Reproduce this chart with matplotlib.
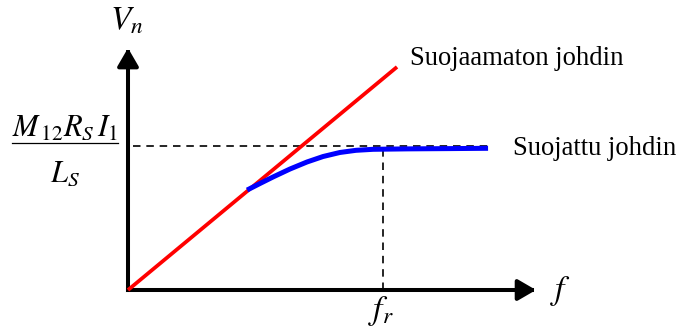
import matplotlib
matplotlib.use("Agg")
import matplotlib.pyplot as plt

plt.rcParams["mathtext.fontset"] = "stix"
plt.rcParams["font.family"] = ["Liberation Serif", "DejaVu Serif"]

# Normalised frequency (f / f_r) and induced voltage (V_n / saturation level)
f_unshielded = [0.0, 1.055]
v_unshielded = [0.0, 1.549]

f_shielded = [0.467, 0.518, 0.569, 0.635, 0.702, 0.765, 0.831, 0.894,
              0.961, 1.094, 1.263, 1.412]
v_shielded = [0.694, 0.740, 0.785, 0.840, 0.889, 0.927, 0.955, 0.970,
              0.977, 0.980, 0.982, 0.984]

saturation_level = 1.0
f_resonance = 1.0
f_axis_end = 1.60
v_axis_end = 1.68

label_unshielded = "Suojaamaton johdin"
label_shielded = "Suojattu johdin"

fig = plt.figure(figsize=(6.79, 3.28), dpi=100)
ax = fig.add_axes([0, 0, 1, 1])
ax.set_xlim(-128 / 255, 551 / 255)
ax.set_ylim(-38 / 144, 290 / 144)
ax.axis("off")

arrow_kw = dict(arrowstyle="-|>,head_length=0.55,head_width=0.32",
                color="black", lw=2.9, mutation_scale=20,
                shrinkA=0, shrinkB=0, capstyle="projecting")
ax.annotate("", xy=(0, v_axis_end), xytext=(0, 0), arrowprops=arrow_kw)
ax.annotate("", xy=(f_axis_end, 0), xytext=(0, 0), arrowprops=arrow_kw)

# Reference guides: saturation level and resonance frequency
ax.plot([0.02, f_shielded[-1]], [saturation_level, saturation_level],
        color="black", lw=1.2, dashes=(4.5, 3.5))
ax.plot([f_resonance, f_resonance], [0, saturation_level],
        color="black", lw=1.2, dashes=(4.5, 3.5))

ax.plot(f_unshielded, v_unshielded, color="#ff0000", lw=2.7,
        solid_capstyle="butt", zorder=3)
ax.plot(f_shielded, v_shielded, color="#0000ff", lw=3.6,
        solid_capstyle="butt", zorder=4)

ax.text(1.106, 1.5625, label_unshielded, fontsize=19.2, ha="left",
        va="baseline")
ax.text(1.510, 0.9375, label_shielded, fontsize=19.2, ha="left",
        va="baseline")

ax.text(-0.005, 1.81, r"$V_n$", fontsize=24, ha="center", va="baseline")
ax.text(1.695, -0.01, r"$f$", fontsize=24, ha="center", va="center")
ax.text(0.99, -0.145, r"$f_r$", fontsize=24, ha="center",
        va="center")

# Saturation value as a fraction on the vertical axis
ax.text(-0.247, 1.069, r"$M_{\,12}R_S\,I_1$", fontsize=22, ha="center",
        va="baseline")
ax.plot([-0.455, -0.04], [1.024, 1.024], color="black", lw=0.9)
ax.text(-0.247, 0.75, r"$L_S$", fontsize=22, ha="center", va="baseline")

fig.savefig("out.png", dpi=100)
